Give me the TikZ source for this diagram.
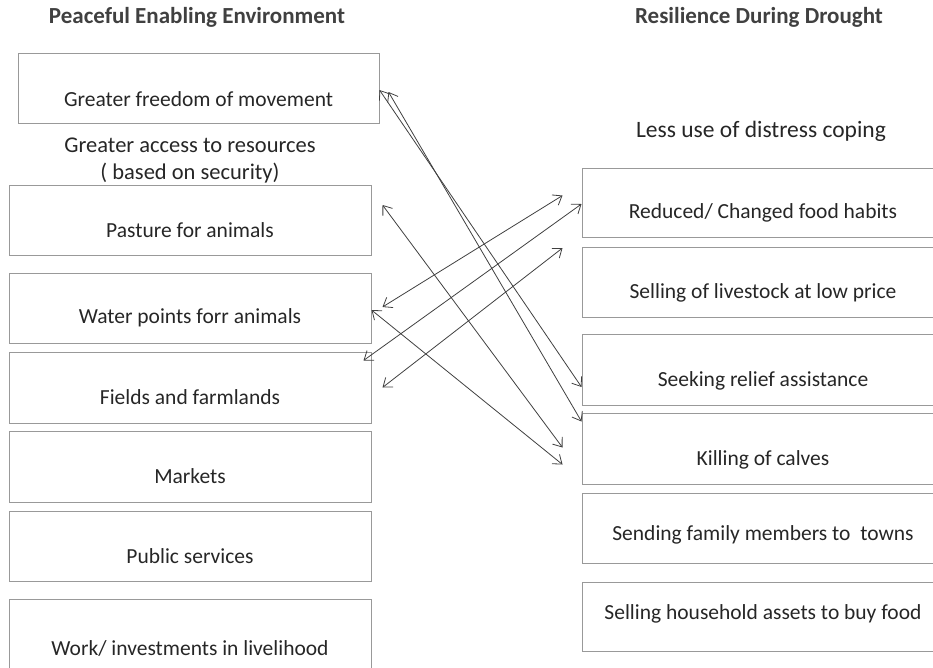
\documentclass[tikz,border=0pt]{standalone}
\usepackage{fontspec}
\setmainfont{Carlito}
\usepackage{tikz}
\usetikzlibrary{arrows.meta,shapes,positioning}
\usepackage{xcolor}
\definecolor{boxgray}{gray}{0.6}
\definecolor{inkgray}{gray}{0.25}

\begin{document}
\begin{tikzpicture}[x=1pt, y=-1pt,
		box/.style={draw=boxgray, line width=1pt, minimum width=362pt, minimum height=70pt, inner sep=0pt},
		txt/.style={font=\fontsize{21.5}{25}\selectfont, text=black!85, inner sep=0pt},
		head/.style={font=\fontsize{23}{27}\selectfont\bfseries, text=inkgray, inner sep=0pt},
		link/.style={draw=inkgray, line width=0.8pt, {Straight Barb[length=8pt,width=12pt]}-{Straight Barb[length=8pt,width=12pt]}}] % {{{
		\pgfmathsetmacro{\leftx}{190}
		\pgfmathsetmacro{\rightx}{763}
		\useasboundingbox (0,0) rectangle (933,667);
		% Titulos   {{{
		\node[head] (peace) at (197,17) {Peaceful Enabling Environment};
		\node[head] (resil) at (759,17) {Resilience During Drought};
		\node[txt, font=\fontsize{22.5}{26}\selectfont] (access) at (\leftx,145) {Greater access to resources};
		\node[txt, font=\fontsize{22.5}{26}\selectfont] (secur) at (\leftx,173) {( based on security)};
		\node[txt, font=\fontsize{23.5}{27}\selectfont] (less) at (761,131) {Less use of distress coping}; % }}}
		% Izquierda   {{{
		\node[box, minimum width=361pt] (free) at (198.5,88) {};
		\node[txt, yshift=-11pt] at (free.center) {Greater freedom of movement};
		\node[box] (pasture) at (\leftx,220) {};
		\node[txt, yshift=-10pt] at (pasture.center) {Pasture for animals};
		\node[box] (water) at (\leftx,308) {};
		\node[txt, yshift=-10pt] at (water.center) {Water points forr animals};
		\node[box, minimum height=71pt] (fields) at (\leftx,387.5) {};
		\node[txt, yshift=-10pt] at (fields.center) {Fields and farmlands};
		\node[box, minimum height=71pt] (markets) at (\leftx,466.5) {};
		\node[txt, yshift=-10pt] at (markets.center) {Markets};
		\node[box] (public) at (\leftx,546) {};
		\node[txt, yshift=-10pt] at (public.center) {Public services};
		\node[box, minimum height=72pt] (work) at (\leftx,635) {};
		\node[txt, yshift=-13pt] at (work.center) {Work/ investments in livelihood}; % }}}
		% Derecha   {{{
		\node[box, minimum height=69pt] (food) at (\rightx,202.5) {};
		\node[txt, yshift=-10pt] at (food.center) {Reduced/ Changed food habits};
		\node[box] (livestock) at (\rightx,282) {};
		\node[txt, yshift=-11pt] at (livestock.center) {Selling of livestock at low price};
		\node[box, minimum height=71pt] (relief) at (\rightx,369.5) {};
		\node[txt, yshift=-11pt] at (relief.center) {Seeking relief assistance};
		\node[box, minimum height=71pt] (calves) at (\rightx,448.5) {};
		\node[txt, yshift=-11pt] at (calves.center) {Killing of calves};
		\node[box] (towns) at (\rightx,528) {};
		\node[txt, yshift=-7pt] at (towns.center) {Sending family members to\ \ towns};
		\node[box, minimum height=69pt] (assets) at (\rightx,616.5) {};
		\node[txt, yshift=3pt] at (assets.center) {Selling household assets to buy food}; % }}}
		% Flechas   {{{
		\coordinate (f1) at ([yshift=-2pt]free.east);
		\coordinate (f2) at ([xshift=9pt,yshift=-4pt]free.east);
		\coordinate (p1) at ([xshift=11pt,yshift=15pt]pasture.east);
		\coordinate (w1) at ([xshift=11pt,yshift=1pt]water.east);
		\coordinate (w2) at ([yshift=-2pt]water.east);
		\coordinate (d1) at ([xshift=-8pt,yshift=27pt]fields.east);
		\coordinate (d2) at ([xshift=11pt]fields.east);
		\coordinate (r1) at ([yshift=-17.5pt]relief.west);
		\coordinate (k1) at ([yshift=-9pt]calves.north west);
		\coordinate (k2) at ([xshift=-19pt,yshift=1pt]calves.west);
		\coordinate (k3) at ([xshift=-19pt,yshift=-16pt]calves.west);
		\coordinate (c1) at ([xshift=-19pt,yshift=7pt]food.west);
		\coordinate (c2) at ([yshift=-1.5pt]food.west);
		\coordinate (s1) at ([xshift=-19pt,yshift=34pt]livestock.west);
		\draw[link] (f1) -- (r1);
		\draw[link] (f2) -- (k1);
		\draw[link] (p1) -- (k2);
		\draw[link] (w1) -- (c1);
		\draw[link] (w2) -- (k3);
		\draw[link] (d1) -- (c2);
		\draw[link] (d2) -- (s1); % }}}
		\end{tikzpicture}
\end{document}
